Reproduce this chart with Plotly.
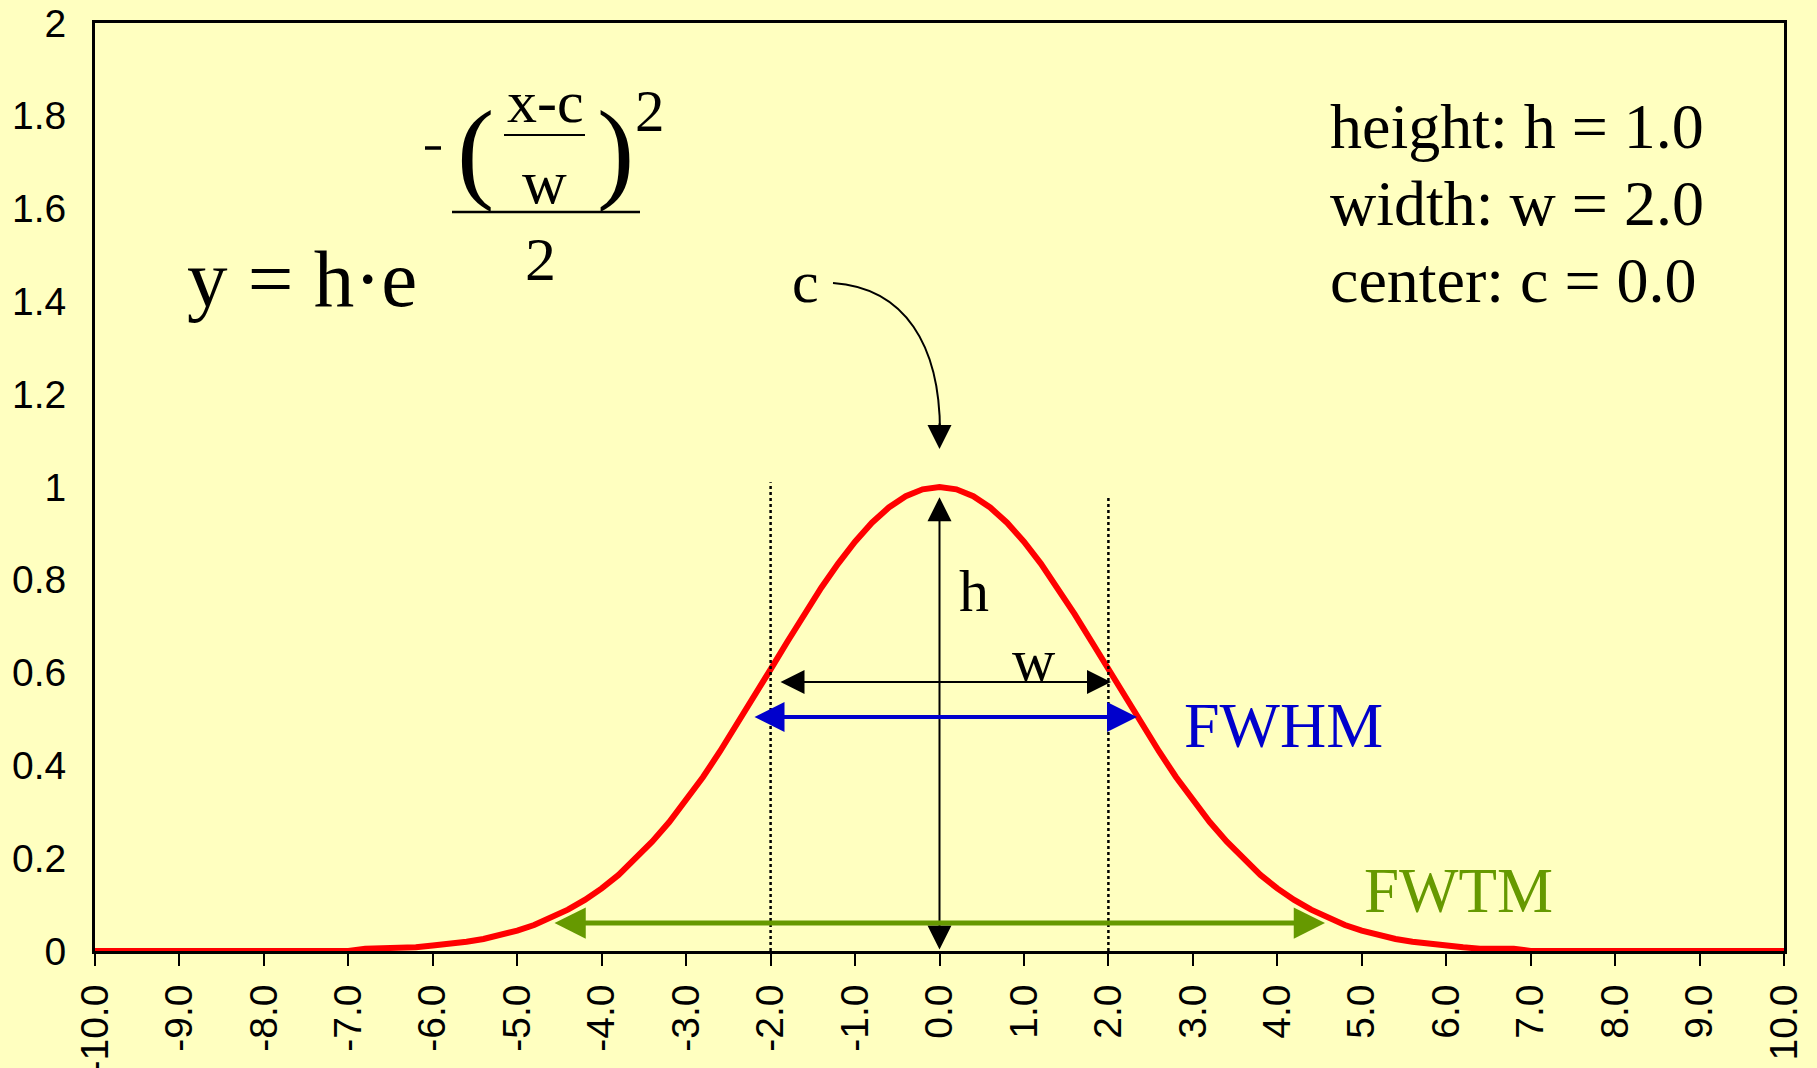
import plotly.graph_objects as go

# ---------------- data ----------------
x_vals = [-10.0, -7.0, -6.8, -6.6, -6.4, -6.2, -6.0, -5.8, -5.6, -5.4, -5.2, -5.0,
          -4.8, -4.6, -4.4, -4.2, -4.0, -3.8, -3.6, -3.4, -3.2, -3.0, -2.8, -2.6,
          -2.4, -2.2, -2.0, -1.8, -1.6, -1.4, -1.2, -1.0, -0.8, -0.6, -0.4, -0.2,
          0.0, 0.2, 0.4, 0.6, 0.8, 1.0, 1.2, 1.4, 1.6, 1.8, 2.0, 2.2, 2.4, 2.6,
          2.8, 3.0, 3.2, 3.4, 3.6, 3.8, 4.0, 4.2, 4.4, 4.6, 4.8, 5.0, 5.2, 5.4,
          5.6, 5.8, 6.0, 6.2, 6.4, 6.6, 6.8, 7.0, 10.0]
y_vals = [0.0, 0.0, 0.005, 0.005, 0.005, 0.008, 0.012, 0.015, 0.02, 0.026, 0.034, 0.044,
          0.056, 0.071, 0.089, 0.11, 0.135, 0.164, 0.198, 0.236, 0.278, 0.325, 0.375, 0.43,
          0.487, 0.546, 0.607, 0.667, 0.726, 0.783, 0.835, 0.882, 0.923, 0.956, 0.98, 0.995,
          1.0, 0.995, 0.98, 0.956, 0.923, 0.882, 0.835, 0.783, 0.726, 0.667, 0.607, 0.546, 0.487, 0.43,
          0.375, 0.325, 0.278, 0.236, 0.198, 0.164, 0.135, 0.11, 0.089, 0.071, 0.056, 0.044, 0.034, 0.026,
          0.02, 0.015, 0.012, 0.008, 0.005, 0.005, 0.005, 0.0, 0.0]

# parameters shown in the chart
h_val, w_val, c_val = 1.0, 2.0, 0.0
x_ticks = [-10, -9, -8, -7, -6, -5, -4, -3, -2, -1, 0, 1, 2, 3, 4, 5, 6, 7, 8, 9, 10]
x_ticktext = ["-10.0", "-9.0", "-8.0", "-7.0", "-6.0", "-5.0", "-4.0", "-3.0", "-2.0", "-1.0",
              "0.0", "1.0", "2.0", "3.0", "4.0", "5.0", "6.0", "7.0", "8.0", "9.0", "10.0"]
y_ticks = [0, 0.2, 0.4, 0.6, 0.8, 1, 1.2, 1.4, 1.6, 1.8, 2]
y_ticktext = ["0", "0.2", "0.4", "0.6", "0.8", "1", "1.2", "1.4", "1.6", "1.8", "2"]

# ---------------- layout helpers ----------------
W, H = 1817, 1068
L, R, T, B = 95, 1784, 23, 951
BG = "#FFFFC0"
SERIF = "Liberation Serif, Times New Roman, serif"
SANS = "Liberation Sans, Arial, sans-serif"


def dx(px):
    return -10 + 20 * (px - L) / (R - L)


def dy(py):
    return 2 * (B - py) / (B - T)


fig = go.Figure()
fig.add_trace(go.Scatter(x=x_vals, y=y_vals, mode="lines",
                         line=dict(color="#FF0000", width=6),
                         cliponaxis=False, hoverinfo="skip", showlegend=False))

annotations = []


def text(s, px, baseline, size, color="black", anchor="left"):
    annotations.append(dict(x=dx(px), y=dy(baseline - 0.34 * size), xref="x", yref="y",
                            text=s, showarrow=False, xanchor=anchor, yanchor="middle",
                            font=dict(family=SERIF, size=size, color=color)))


def arrow(x0, y0, x1, y1, color, width, size, both=True):
    annotations.append(dict(x=x1, y=y1, ax=x0, ay=y0, xref="x", yref="y",
                            axref="x", ayref="y", text="", showarrow=True,
                            arrowhead=2, startarrowhead=2, arrowsize=size,
                            startarrowsize=size, arrowwidth=width, arrowcolor=color,
                            arrowside="end+start" if both else "end",
                            standoff=0, startstandoff=0))


def hline(px0, px1, py, width):
    return dict(type="line", xref="x", yref="y", x0=dx(px0), x1=dx(px1), y0=dy(py), y1=dy(py),
                line=dict(color="black", width=width))


# parameter text block
text("height: h = 1.0", 1328, 148, 64)
text("width: w = 2.0", 1328, 225, 64)
text("center: c = 0.0", 1328, 302, 64)

# formula
text("y = h·e", 185, 307, 81)
text("(", 475, 188, 112, anchor="center")
text(")", 615, 188, 112, anchor="center")
text("x-c", 545, 122, 60, anchor="center")
text("w", 544, 203, 62, anchor="center")
text("2", 650, 131, 59, anchor="center")
text("2", 540, 280, 62, anchor="center")

shapes = [
    hline(425, 441, 148, 3.5),          # leading minus of the exponent
    hline(504, 585, 135, 2),            # inner fraction bar
    hline(452, 640, 212, 2.5),          # outer fraction bar
    # dotted width markers at c - w and c + w
    dict(type="line", xref="x", yref="y", x0=c_val - w_val, x1=c_val - w_val, y0=0, y1=1.01,
         line=dict(color="black", width=2.5, dash="dot")),
    dict(type="line", xref="x", yref="y", x0=c_val + w_val, x1=c_val + w_val, y0=0, y1=0.98,
         line=dict(color="black", width=2.5, dash="dot")),
    # curved arrow from the "c" label
    dict(type="path", xref="x", yref="y",
         path=f"M {dx(833)},{dy(283)} C {dx(905)},{dy(288)} {dx(940)},{dy(345)} {dx(940)},{dy(432)}",
         line=dict(color="black", width=2)),
]

# labels
text("c", 790, 302, 60)
text("h", 957, 611, 60)
text("w", 1010, 680, 60)
text("FWHM", 1182, 747, 64, color="#0000CC")
text("FWTM", 1362, 912, 63, color="#669900")

# arrows
arrow(c_val, dy(422), c_val, dy(449), "black", 2, 2.4, both=False)
arrow(c_val, 0.0, c_val, 0.978, "black", 2, 2.4)
arrow(dx(779), dy(682), dx(1111), dy(682), "black", 2, 2.4)
arrow(dx(753), dy(717), dx(1137), dy(717), "#0000CC", 4, 1.5)
arrow(dx(553), dy(923), dx(1325), dy(923), "#669900", 5, 1.25)

fig.update_layout(
    width=W, height=H,
    margin=dict(l=L, r=W - R, t=T, b=H - B, pad=0, autoexpand=False),
    paper_bgcolor=BG, plot_bgcolor=BG,
    showlegend=False,
    annotations=annotations,
    shapes=shapes,
    xaxis=dict(range=[-10, 10], tickvals=x_ticks, ticktext=x_ticktext, tickangle=-90,
               ticks="outside", ticklen=12, tickwidth=1.5, tickcolor="black",
               showline=True, linecolor="black", linewidth=3, mirror=True,
               showgrid=False, zeroline=False, layer="below traces", automargin=False,
               tickfont=dict(family=SANS, size=39, color="black"),
               ticklabelstandoff=3),
    xaxis2=dict(range=[-10, 10], overlaying="x", anchor="y", side="bottom",
                tickvals=x_ticks, ticks="inside", ticklen=12, tickwidth=1.5,
                tickcolor="black", showticklabels=False, showline=False,
                showgrid=False, zeroline=False, automargin=False),
    yaxis=dict(range=[0, 2], tickvals=y_ticks, ticktext=y_ticktext, ticks="",
               showline=True, linecolor="black", linewidth=3, mirror=True,
               showgrid=False, zeroline=False, layer="below traces", automargin=False,
               tickfont=dict(family=SANS, size=39, color="black"),
               ticklabelstandoff=18),
)

fig.write_html("out.html", config={"displayModeBar": False},
               post_script="document.body.style.margin='0';document.body.style.overflow='hidden';")
